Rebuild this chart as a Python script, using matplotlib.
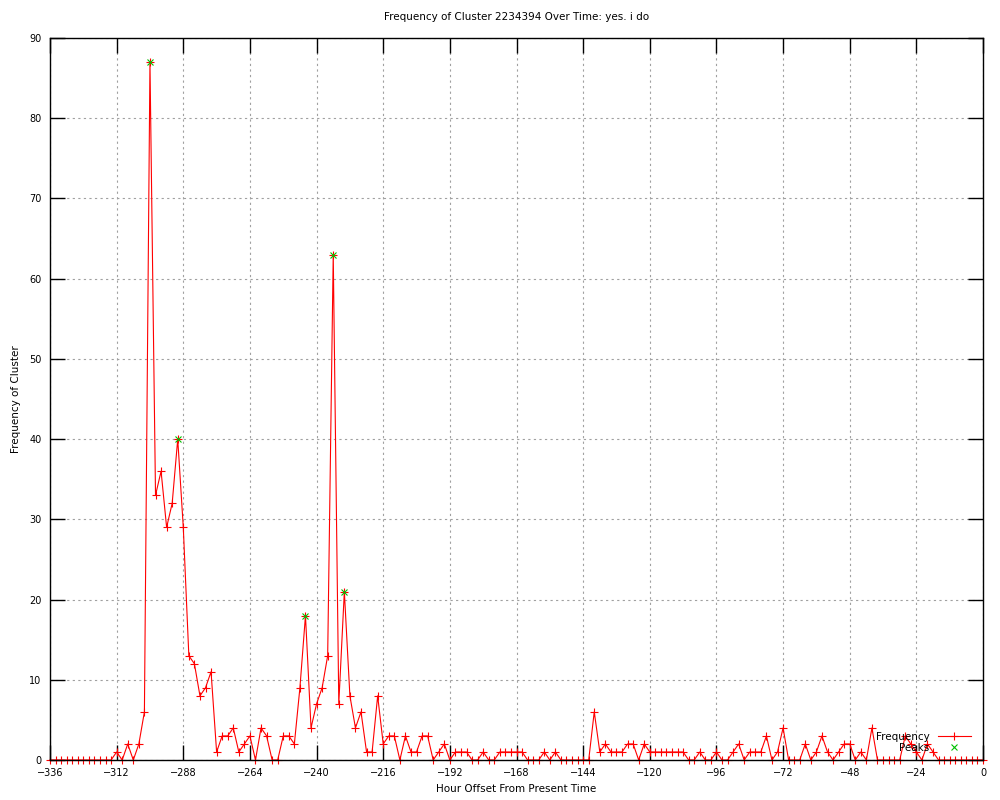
import numpy as np
import matplotlib.pyplot as plt

# hourly offsets, one sample every 2 hours
hours = np.arange(-336, 1, 2)
counts = [
    0, 0, 0, 0, 0, 0, 0, 0, 0, 0, 0, 0,
    1, 0, 2, 0, 2, 6, 87, 33, 36, 29, 32, 40, 29, 13, 12, 8, 9, 11,
    1, 3, 3, 4, 1, 2, 3, 0, 4, 3, 0, 0, 3, 3, 2, 9, 18, 4, 7, 9,
    13, 63, 7, 21, 8, 4, 6, 1, 1, 8, 2, 3, 3, 0, 3, 1, 1, 3, 3, 0,
    1, 2, 0, 1, 1, 1, 0, 0, 1, 0, 0, 1, 1, 1, 1, 1, 0, 0, 0, 1,
    0, 1, 0, 0, 0, 0, 0, 0, 6, 1, 2, 1, 1, 1, 2, 2, 0, 2, 1, 1,
    1, 1, 1, 1, 1, 0, 0, 1, 0, 0, 1, 0, 0, 1, 2, 0, 1, 1, 1, 3,
    0, 1, 4, 0, 0, 0, 2, 0, 1, 3, 1, 0, 1, 2, 2, 0, 1, 0, 4, 0,
    0, 0, 0, 0, 3, 2, 1, 0, 2, 1, 0, 0, 0, 0, 0, 0, 0, 0, 0,
]
peak_hours = [-300, -290, -244, -234, -230]
peak_counts = [87, 40, 18, 63, 21]

xticks = np.arange(-336, 1, 24)
yticks = np.arange(0, 91, 10)

plt.rcParams["font.family"] = "DejaVu Sans"
fig = plt.figure(figsize=(10, 8), dpi=100)
ax = fig.add_axes([0.05, 0.05, 0.933, 0.9025])

ax.plot(hours, counts, color="red", linewidth=0.8, marker="+",
        markersize=6, markeredgewidth=0.8, label="Frequency", clip_on=False)
ax.plot(peak_hours, peak_counts, linestyle="none", marker="x",
        color="#00c000", markersize=4.5, markeredgewidth=0.8, label="Peaks")

ax.set_xlim(-336, 0)
ax.set_ylim(0, 90)
ax.set_xticks(xticks)
ax.set_yticks(yticks)
ax.tick_params(direction="in", length=11, width=1, labelsize=7,
               top=True, right=True, pad=6)
ax.grid(True, color="#a0a0a0", linestyle=(0, (2, 3)), linewidth=0.8)
for s in ax.spines.values():
    s.set_linewidth(1)

ax.set_title("Frequency of Cluster 2234394 Over Time: yes. i do",
             fontsize=7.5, pad=13)
ax.set_xlabel("Hour Offset From Present Time", fontsize=7.5, labelpad=4)
ax.set_ylabel("Frequency of Cluster", fontsize=7.5, labelpad=6)

ax.legend(loc="lower right", frameon=False, markerfirst=False,
          fontsize=7.5, handlelength=3.2, borderaxespad=0.3,
          labelspacing=0.1, bbox_to_anchor=(0.995, 0.0))

fig.savefig("out.png", dpi=100)
